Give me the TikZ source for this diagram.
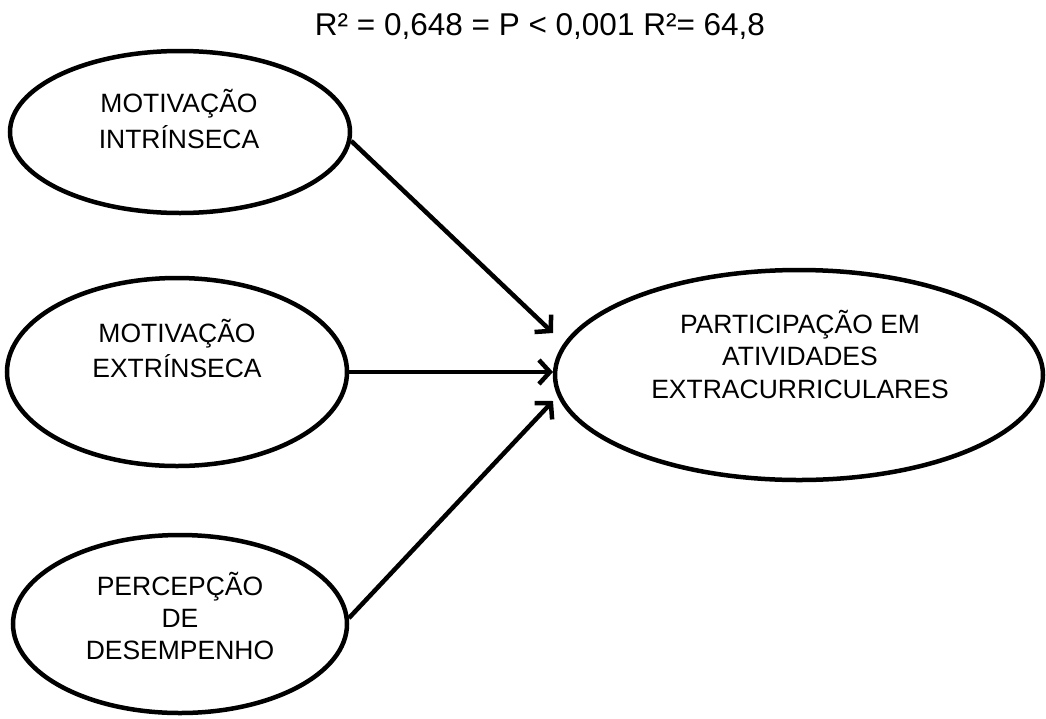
\documentclass[tikz,border=0pt]{standalone}
\usepackage{fontspec}
\setmainfont{Liberation Sans}
\usetikzlibrary{shapes.geometric,arrows.meta}
\begin{document}
\begin{tikzpicture}[x=1pt,y=-1pt,
  ell/.style={draw=black,line width=4.5pt,ellipse,inner sep=0pt,fill=white},
  txt/.style={align=center,inner sep=0pt,font=\fontsize{26.5}{33}\selectfont},
  conn/.style={line width=4.5pt,-{Straight Barb[length=11pt,width=24pt]}}]
\useasboundingbox (0,0) rectangle (1046,718);
\node[ell,minimum width=340pt,minimum height=162pt] (mi) at (180,132) {};
\node[ell,minimum width=340pt,minimum height=188pt] (me) at (177,372) {};
\node[ell,minimum width=334pt,minimum height=178pt] (pd) at (180,624) {};
\node[ell,minimum width=488pt,minimum height=210pt] (pa) at (799,375) {};
\node[txt,anchor=base,font=\fontsize{26.5}{36}\selectfont] (tmi) at (179,148) {MOTIVAÇÃO\\INTRÍNSECA};
\node[txt,anchor=base,font=\fontsize{26.5}{35}\selectfont] (tme) at (177,377) {MOTIVAÇÃO\\EXTRÍNSECA};
\node[txt,anchor=base,font=\fontsize{26.5}{32}\selectfont] (tpd) at (180,659) {PERCEPÇÃO\\DE\\DESEMPENHO};
\node[txt,anchor=base,font=\fontsize{26.5}{32.5}\selectfont] (tpa) at (800,398) {PARTICIPAÇÃO EM\\ATIVIDADES\\EXTRACURRICULARES};
\node[anchor=base,inner sep=0pt,font=\fontsize{31.5}{36}\selectfont] (title) at (540,35) {R² = 0,648 = P < 0,001 R²= 64,8};
\coordinate (t1) at (553,333);
\coordinate (t2) at (553,372);
\coordinate (t3) at (553,401);
\draw[conn] (mi.-3.4) -- (t1);
\draw[conn] (me.0) -- (t2);
\draw[conn] (pd.2.4) -- (t3);
\end{tikzpicture}
\end{document}
